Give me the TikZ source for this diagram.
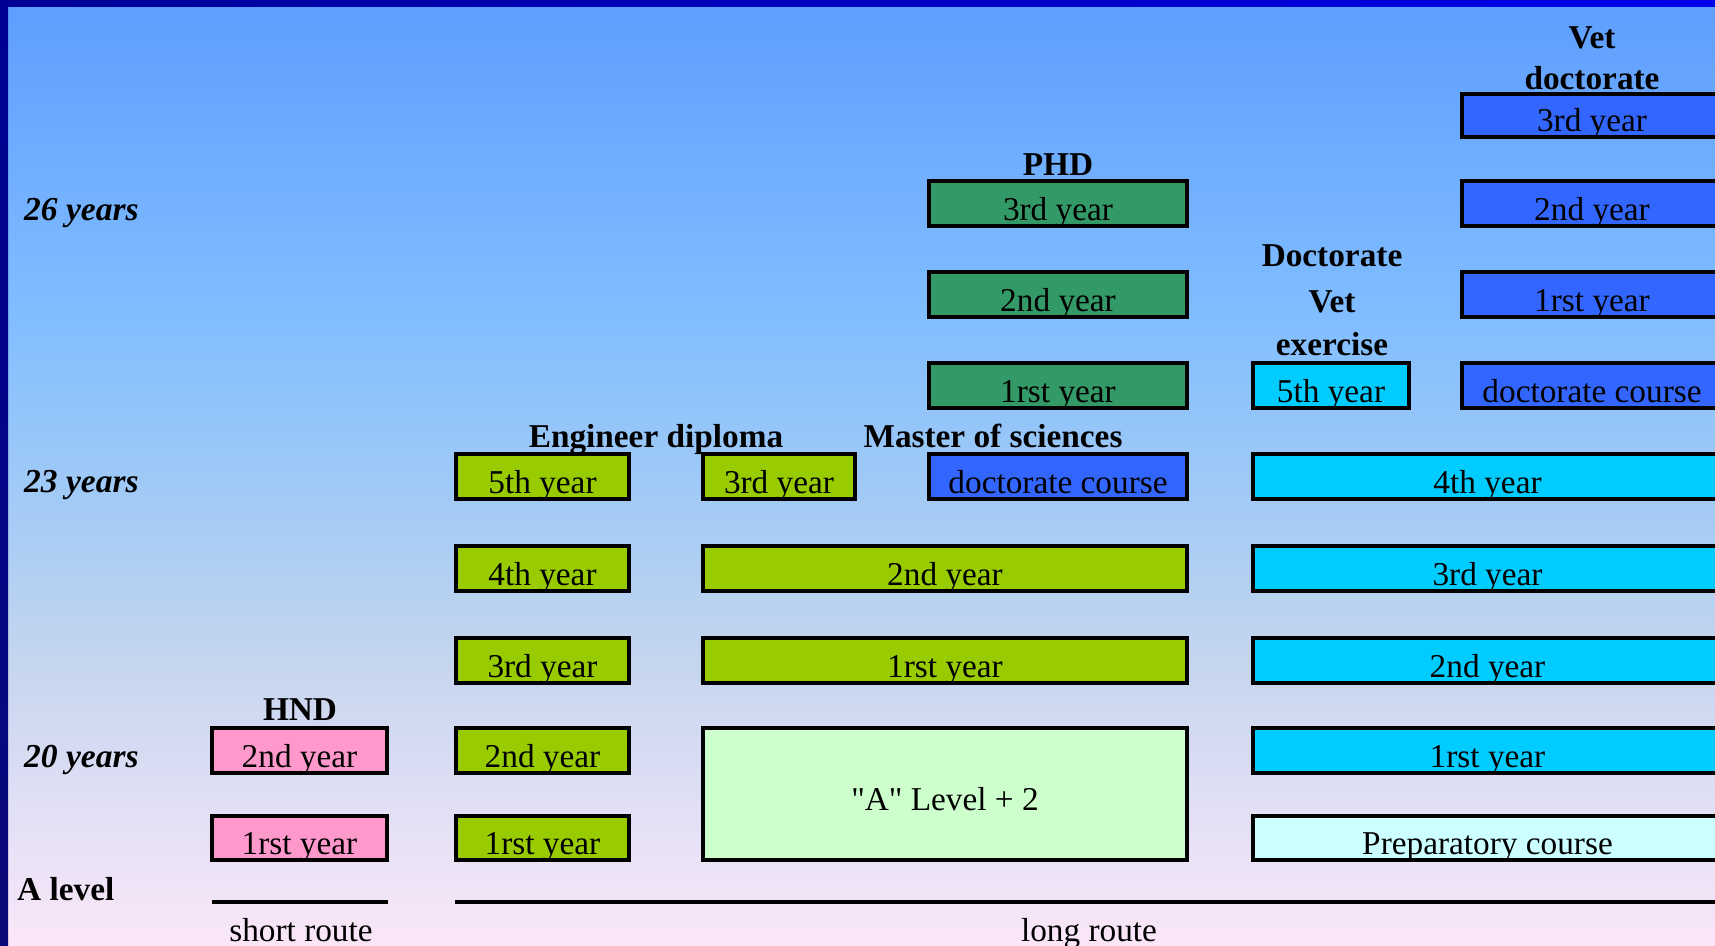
\documentclass[tikz,border=0pt]{standalone}
\usepackage{fontspec}
\setmainfont{Liberation Serif}
\newfontfamily\plainserif{Liberation Serif}
\definecolor{bgA}{RGB}{95,159,255}
\definecolor{bgB}{RGB}{128,189,255}
\definecolor{bgC}{RGB}{164,203,245}
\definecolor{bgD}{RGB}{197,213,238}
\definecolor{bgE}{RGB}{226,224,245}
\definecolor{bgF}{RGB}{251,230,248}
\definecolor{pinkbox}{RGB}{255,153,204}
\definecolor{limebox}{RGB}{153,204,0}
\definecolor{palegreen}{RGB}{204,255,204}
\definecolor{phdgreen}{RGB}{51,153,102}
\definecolor{docblue}{RGB}{51,102,255}
\definecolor{cyanbox}{RGB}{0,204,255}
\definecolor{palecyan}{RGB}{204,255,255}
\definecolor{frameL}{RGB}{0,0,150}
\definecolor{frameR}{RGB}{0,0,235}
\definecolor{frameB}{RGB}{10,10,120}
\pgfdeclareverticalshading{bgsh}{100bp}{color(0bp)=(bgF); color(25bp)=(bgF); color(32bp)=(bgE); color(40bp)=(bgD); color(48bp)=(bgC); color(58.5bp)=(bgB); color(74bp)=(bgA); color(100bp)=(bgA)}
\tikzset{
  boxline/.style={draw=black, line width=3.5pt},
  boxtxt/.style={anchor=base, inner sep=0pt, font=\fontsize{33.3}{36}\selectfont},
  titletxt/.style={anchor=base, inner sep=0pt, font=\fontsize{33.3}{36}\selectfont\bfseries},
  agetxt/.style={anchor=base west, inner sep=0pt, font=\fontsize{33.5}{36}\selectfont\bfseries\itshape},
  routetxt/.style={anchor=base, inner sep=0pt, font=\fontsize{33.3}{36}\selectfont},
  routeline/.style={line width=4pt, black}
}
% \ybox{name}{fill}{x1}{ytop}{x2}{ybottom}{text}
\newcommand\ybox[7]{%
  \draw[boxline, fill=#2] (#3,#4) rectangle (#5,#6);
  \node[boxtxt] (#1) at ({(#3+#5)/2},{#6-5.5}) {#7};
}
\begin{document}
\begin{tikzpicture}[x=1pt,y=-1pt]
\useasboundingbox (0,0) rectangle (1715,945);
\begin{scope}
\clip (0,0) rectangle (1715,945);
% background
\shade[shading=bgsh] (0,0) rectangle (1715,945);
% frame
\shade[left color=frameL, right color=frameR] (0,0) rectangle (1715,6);
\shade[top color=frameL, bottom color=frameB] (0,0) rectangle (8,945);

% HND
\ybox{hndA}{pinkbox}{212}{816}{387}{860}{1rst year}
\ybox{hndB}{pinkbox}{212}{728}{387}{773}{2nd year}
% Engineer column
\ybox{engA}{limebox}{456}{816}{629}{860}{1rst year}
\ybox{engB}{limebox}{456}{728}{629}{773}{2nd year}
\ybox{engC}{limebox}{456}{638}{629}{683}{3rd year}
\ybox{engD}{limebox}{456}{546}{629}{591}{4th year}
\ybox{engE}{limebox}{456}{454}{629}{499}{5th year}
% Master column
\draw[boxline, fill=palegreen] (703,728) rectangle (1187,860);
\node[boxtxt, font=\fontsize{33.3}{36}\plainserif] (alevel) at (945,810) {"A" Level + 2};
\ybox{msA}{limebox}{703}{638}{1187}{683}{1rst year}
\ybox{msB}{limebox}{703}{546}{1187}{591}{2nd year}
\ybox{msC}{limebox}{703}{454}{855}{499}{3rd year}
% PHD column
\ybox{phdD}{docblue}{929}{454}{1187}{499}{doctorate course}
\ybox{phdA}{phdgreen}{929}{363}{1187}{408}{1rst year}
\ybox{phdB}{phdgreen}{929}{272}{1187}{317}{2nd year}
\ybox{phdC}{phdgreen}{929}{181}{1187}{226}{3rd year}
% Vet column
\ybox{vetP}{palecyan}{1253}{816}{1722}{860}{Preparatory course}
\ybox{vetA}{cyanbox}{1253}{728}{1722}{773}{1rst year}
\ybox{vetB}{cyanbox}{1253}{638}{1722}{683}{2nd year}
\ybox{vetC}{cyanbox}{1253}{546}{1722}{591}{3rd year}
\ybox{vetD}{cyanbox}{1253}{454}{1722}{499}{4th year}
\ybox{vetE}{cyanbox}{1253}{363}{1409}{408}{5th year}
% Vet doctorate column
\ybox{vdD}{docblue}{1462}{363}{1722}{408}{doctorate course}
\ybox{vdA}{docblue}{1462}{272}{1722}{317}{1rst year}
\ybox{vdB}{docblue}{1462}{181}{1722}{226}{2nd year}
\ybox{vdC}{docblue}{1462}{94}{1722}{137}{3rd year}

% titles
\node[titletxt] (tHND) at (300,720) {HND};
\node[titletxt] (tEng) at (656,447) {Engineer diploma};
\node[titletxt] (tMs) at (993,447) {Master of sciences};
\node[titletxt] (tPHD) at (1058,175) {PHD};
\node[titletxt] (tDocA) at (1332,266) {Doctorate};
\node[titletxt] (tDocB) at (1332,312) {Vet};
\node[titletxt] (tDocC) at (1332,355) {exercise};
\node[titletxt] (tVdA) at (1592,48) {Vet};
\node[titletxt] (tVdB) at (1592,89) {doctorate};

% ages
\node[agetxt] (age26) at (24,220) {26 years};
\node[agetxt] (age23) at (24,492) {23 years};
\node[agetxt] (age20) at (24,767) {20 years};
\node[titletxt, anchor=base west] (alvl) at (17,900) {A level};

% routes
\coordinate (sr1) at (212,902);
\coordinate (sr2) at (388,902);
\coordinate (lr1) at (455,902);
\coordinate (lr2) at (1722,902);
\draw[routeline] (sr1) -- (sr2);
\draw[routeline] (lr1) -- (lr2);
\node[routetxt] (short) at (301,941) {short route};
\node[routetxt] (long) at (1089,941) {long route};
\end{scope}
\end{tikzpicture}
\end{document}
